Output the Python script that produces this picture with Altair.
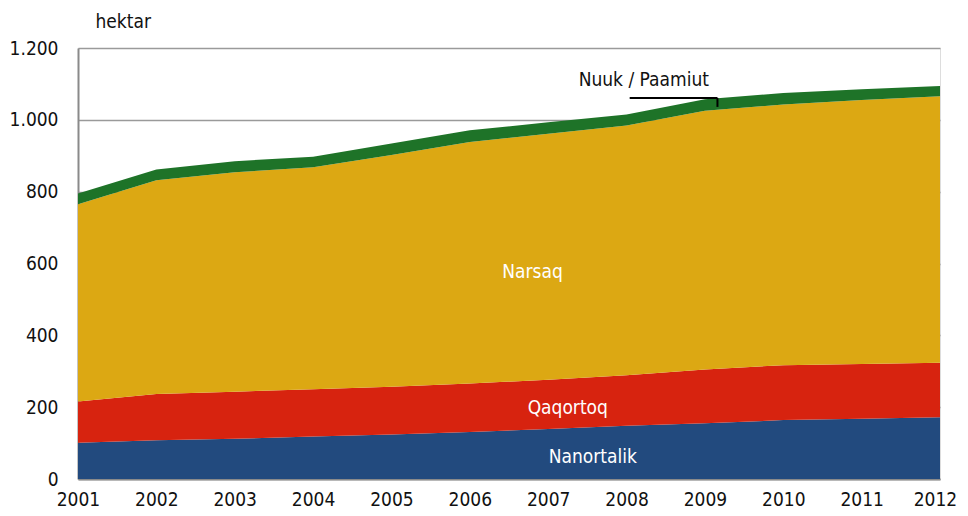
import altair as alt
import pandas as pd

years = list(range(2001, 2013))
series = ["Nanortalik", "Qaqortoq", "Narsaq", "Nuuk / Paamiut"]
nanortalik = [101, 108, 112, 118, 124, 131, 139, 148, 155, 164, 168, 172]
qaqortoq = [115, 129, 131, 132, 133, 135, 137, 141, 150, 153, 152, 152]
narsaq = [549, 595, 611, 618, 645, 672, 685, 695, 720, 726, 735, 742]
nuuk_paamiut = [30, 30, 31, 29, 32, 33, 32, 31, 32, 32, 30, 28]
colors = ["#224a7e", "#d7230f", "#dca813", "#1e7328"]

# in-chart labels (data coordinates)
label_text = ["Narsaq", "Qaqortoq", "Nanortalik"]
label_x = [2006.8, 2007.25, 2007.57]
label_y = [576, 198, 61]
callout_text = ["Nuuk / Paamiut"]
callout_x = [2008.22]
callout_y = [1111]
leader_h = {"x": [2008.04], "x2": [2009.16], "y": [1061]}
leader_v = {"x": [2009.16], "y": [1061], "y2": [1036]}

rows = []
for s_i, (name, vals) in enumerate(zip(series, [nanortalik, qaqortoq, narsaq, nuuk_paamiut])):
    for yr, v in zip(years, vals):
        rows.append({"year": yr, "series": name, "value": v, "ord": s_i})
df = pd.DataFrame(rows)

FONT = "DejaVu Sans Condensed, Liberation Sans, Noto Sans, sans-serif"
FS = 19

xscale = alt.Scale(domain=[2001, 2012], nice=False, zero=False)
yscale = alt.Scale(domain=[0, 1200], nice=False)

area = alt.Chart(df).mark_area(interpolate="linear").encode(
    x=alt.X("year:Q", scale=xscale,
            axis=alt.Axis(values=years, format="d", title=None, grid=False, ticks=False,
                          domainColor="#8a8a8a", domainWidth=2, labelFontSize=FS,
                          labelFont=FONT, labelColor="#111", labelPadding=26,
                          labelBaseline="alphabetic", labelFlush=False,
                          labelOffset={"condition": {"test": "datum.value == 2012", "value": -5},
                                       "value": 0})),
    y=alt.Y("value:Q", stack="zero", scale=yscale,
            axis=alt.Axis(values=[0, 200, 400, 600, 800, 1000, 1200], title="hektar",
                          titleAngle=0, titleAlign="left", titleX=17, titleY=-17,
                          titleFont=FONT, titleFontSize=FS, titleFontWeight="normal",
                          titleColor="#111",
                          labelExpr="replace(format(datum.value, ','), ',', '.')",
                          grid=True, gridColor="#9a9a9a", gridWidth=1.5, ticks=False,
                          domainColor="#8a8a8a", domainWidth=2, labelFontSize=FS,
                          labelFont=FONT, labelColor="#111", labelPadding=20)),
    color=alt.Color("series:N", scale=alt.Scale(domain=series, range=colors), legend=None),
    order=alt.Order("ord:Q", sort="ascending"),
)

labels_df = pd.DataFrame({"t": label_text, "x": label_x, "y": label_y})
labels = alt.Chart(labels_df).mark_text(font=FONT, fontSize=FS, color="white").encode(
    x=alt.X("x:Q", scale=xscale), y=alt.Y("y:Q", scale=yscale), text="t:N")

callout_df = pd.DataFrame({"t": callout_text, "x": callout_x, "y": callout_y})
callout = alt.Chart(callout_df).mark_text(font=FONT, fontSize=FS, color="#111").encode(
    x=alt.X("x:Q", scale=xscale), y=alt.Y("y:Q", scale=yscale), text="t:N")

lh = alt.Chart(pd.DataFrame(leader_h)).mark_rule(color="black", strokeWidth=2).encode(
    x=alt.X("x:Q", scale=xscale), x2="x2:Q", y=alt.Y("y:Q", scale=yscale))
lv = alt.Chart(pd.DataFrame(leader_v)).mark_rule(color="black", strokeWidth=2).encode(
    x=alt.X("x:Q", scale=xscale), y=alt.Y("y:Q", scale=yscale), y2="y2:Q")

chart = alt.layer(area, labels, callout, lh, lv).properties(
    width=862, height=431,
    autosize=alt.AutoSizeParams(type="none"),
    padding={"left": 70, "top": 40, "right": 20, "bottom": 29},
).configure_view(stroke=None).configure(background="white")

chart.save("out.html", embed_options={"renderer": "svg", "actions": False})
